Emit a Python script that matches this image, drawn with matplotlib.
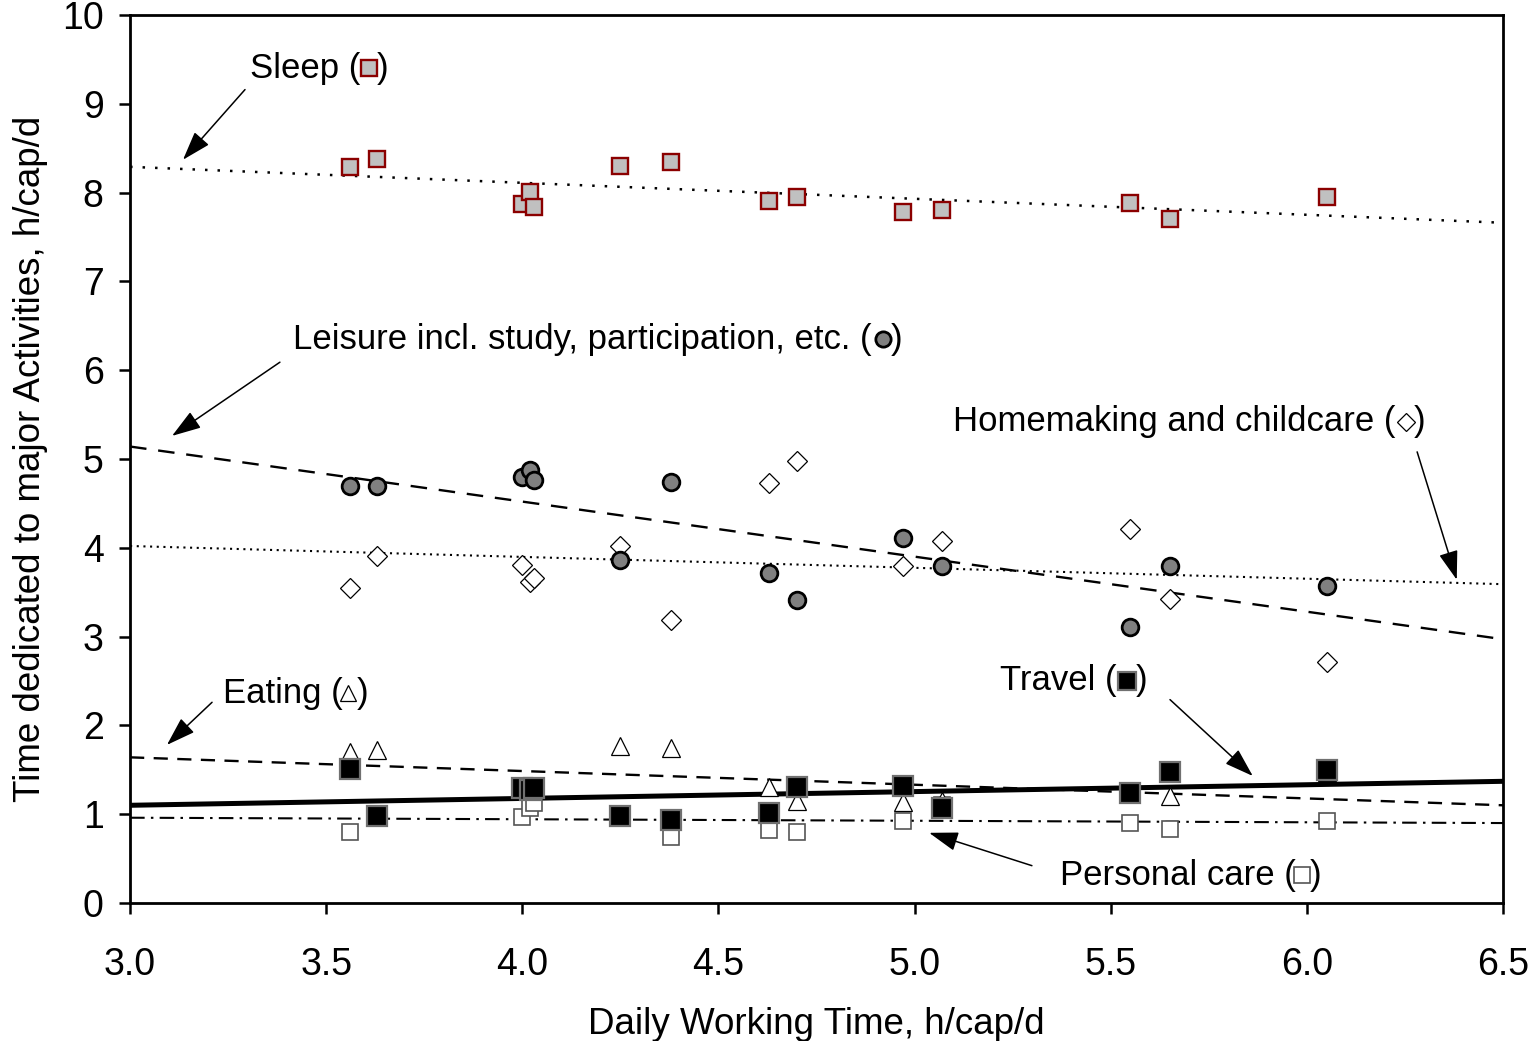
import matplotlib
matplotlib.use("Agg")
import matplotlib.pyplot as plt

plt.rcParams['font.family'] = ['Liberation Sans', 'DejaVu Sans']

# daily working time per country, h/cap/d
work = [3.56, 3.63, 4.00, 4.02, 4.03, 4.25, 4.38, 4.63, 4.70, 4.97, 5.07, 5.55, 5.65, 6.05]

# time spent on the major activities, h/cap/d
sleep = [8.29, 8.38, 7.87, 8.01, 7.84, 8.30, 8.34, 7.91, 7.95, 7.78, 7.80, 7.88, 7.70, 7.95]
leisure = [4.70, 4.70, 4.80, 4.88, 4.76, 3.86, 4.74, 3.72, 3.41, 4.11, 3.79, 3.11, 3.79, 3.57]
homemaking = [3.55, 3.91, 3.81, 3.62, 3.66, 4.02, 3.19, 4.73, 4.98, 3.79, 4.08, 4.21, 3.42, 2.71]
eating = [1.70, 1.72, 1.30, 1.28, 1.32, 1.77, 1.75, 1.31, 1.15, 1.14, 1.15, 1.25, 1.20, 1.48]
travel = [1.51, 0.98, 1.30, 1.27, 1.30, 0.98, 0.93, 1.01, 1.31, 1.32, 1.07, 1.24, 1.48, 1.50]
personal = [0.80, 0.98, 0.97, 1.07, 1.13, 0.98, 0.74, 0.82, 0.80, 0.92, 1.10, 0.90, 0.83, 0.92]

# linear trend lines, value at x = 3.0 and x = 6.5
trend_x = [3.0, 6.5]
sleep_trend = [8.29, 7.66]
leisure_trend = [5.14, 2.97]
homemaking_trend = [4.02, 3.59]
eating_trend = [1.64, 1.10]
travel_trend = [1.10, 1.37]
personal_trend = [0.96, 0.90]

fig = plt.figure(figsize=(15.32, 10.41), dpi=100)
ax = fig.add_axes([0.0849, 0.1326, 0.8962, 0.853])

# trend lines (under the markers)
ax.plot(trend_x, sleep_trend, color='black', lw=1.8, ls=(0, (1, 4)), zorder=2)
ax.plot(trend_x, leisure_trend, color='black', lw=1.7, ls=(0, (7, 5)), zorder=2)
ax.plot(trend_x, homemaking_trend, color='black', lw=1.5, ls=(0, (1, 2.2)), zorder=2)
ax.plot(trend_x, eating_trend, color='black', lw=1.7, ls=(0, (6, 4)), zorder=2)
ax.plot(trend_x, travel_trend, color='black', lw=3.6, ls='-', zorder=2)
ax.plot(trend_x, personal_trend, color='black', lw=1.5, ls=(0, (7, 3, 1.2, 3)), zorder=2)

# marker styles
sleep_style = dict(marker='s', ms=11.5, mfc='#c0c0c0', mec='#8b0000', mew=1.7, ls='none')
leisure_style = dict(marker='o', ms=12, mfc='#808080', mec='black', mew=2.0, ls='none')
home_style = dict(marker='D', ms=10.5, mfc='white', mec='black', mew=0.9, ls='none')
eating_style = dict(marker='^', ms=12.5, mfc='white', mec='black', mew=0.9, ls='none')
travel_style = dict(marker='s', ms=14.5, mfc='black', mec='#707070', mew=1.6, ls='none')
personal_style = dict(marker='s', ms=12, mfc='white', mec='#555555', mew=1.2, ls='none')

ax.plot(work, sleep, zorder=3, **sleep_style)
ax.plot(work, homemaking, zorder=3, **home_style)
ax.plot(work, leisure, zorder=4, **leisure_style)
ax.plot(work, personal, zorder=3, **personal_style)
ax.plot(work, eating, zorder=4, **eating_style)
ax.plot(work, travel, zorder=5, **travel_style)

ax.set_xlim(3.0, 6.5)
ax.set_ylim(0, 10)
ax.set_xticks([3.0, 3.5, 4.0, 4.5, 5.0, 5.5, 6.0, 6.5])
ax.set_xticklabels(['3.0', '3.5', '4.0', '4.5', '5.0', '5.5', '6.0', '6.5'])
ax.set_yticks(range(0, 11))
ax.tick_params(axis='both', direction='out', length=8, width=1.8, labelsize=27)
ax.tick_params(axis='x', pad=24)
ax.tick_params(axis='y', pad=11)
for sp in ax.spines.values():
    sp.set_linewidth(2)

ax.set_xlabel('Daily Working Time, h/cap/d', fontsize=26.5)
ax.xaxis.set_label_coords(0.5, -0.117)
ax.set_ylabel('Time dedicated to major Activities, h/cap/d', fontsize=26.5)
ax.yaxis.set_label_coords(-0.0597, 0.5)

# labels with a small marker sample inside the brackets, plus arrows
fs = 25
arrow = dict(arrowstyle='-|>,head_length=1.0,head_width=0.33', mutation_scale=18,
             color='black', lw=1.1, shrinkA=0, shrinkB=0)


def label(x, y, text, mx, close_x, style, msize):
    ax.text(x, y, text, fontsize=fs, ha='left', va='center')
    st = dict(style)
    st['ms'] = msize
    ax.plot([mx], [y], clip_on=False, zorder=6, **st)
    ax.text(close_x, y, ')', fontsize=fs, ha='left', va='center')


label(3.306, 9.40, 'Sleep (', 3.608, 3.628, sleep_style, 11)
ax.annotate('', xy=(3.135, 8.37), xytext=(3.293, 9.16), arrowprops=arrow)

label(3.415, 6.35, 'Leisure incl. study, participation, etc. (', 4.920, 4.940,
      leisure_style, 11)
ax.annotate('', xy=(3.107, 5.26), xytext=(3.382, 6.09), arrowprops=arrow)

label(5.098, 5.42, 'Homemaking and childcare (', 6.252, 6.272, home_style, 9.5)
ax.annotate('', xy=(6.382, 3.64), xytext=(6.281, 5.08), arrowprops=arrow)

label(3.237, 2.36, 'Eating (', 3.556, 3.577, eating_style, 11.5)
ax.annotate('', xy=(3.094, 1.78), xytext=(3.209, 2.26), arrowprops=arrow)

label(5.218, 2.50, 'Travel (', 5.541, 5.565, travel_style, 13.5)
ax.annotate('', xy=(5.862, 1.43), xytext=(5.651, 2.29), arrowprops=arrow)

label(5.371, 0.31, 'Personal care (', 5.988, 6.008, personal_style, 11.5)
ax.annotate('', xy=(5.037, 0.79), xytext=(5.299, 0.42), arrowprops=arrow)

fig.savefig('out.png', dpi=100)
